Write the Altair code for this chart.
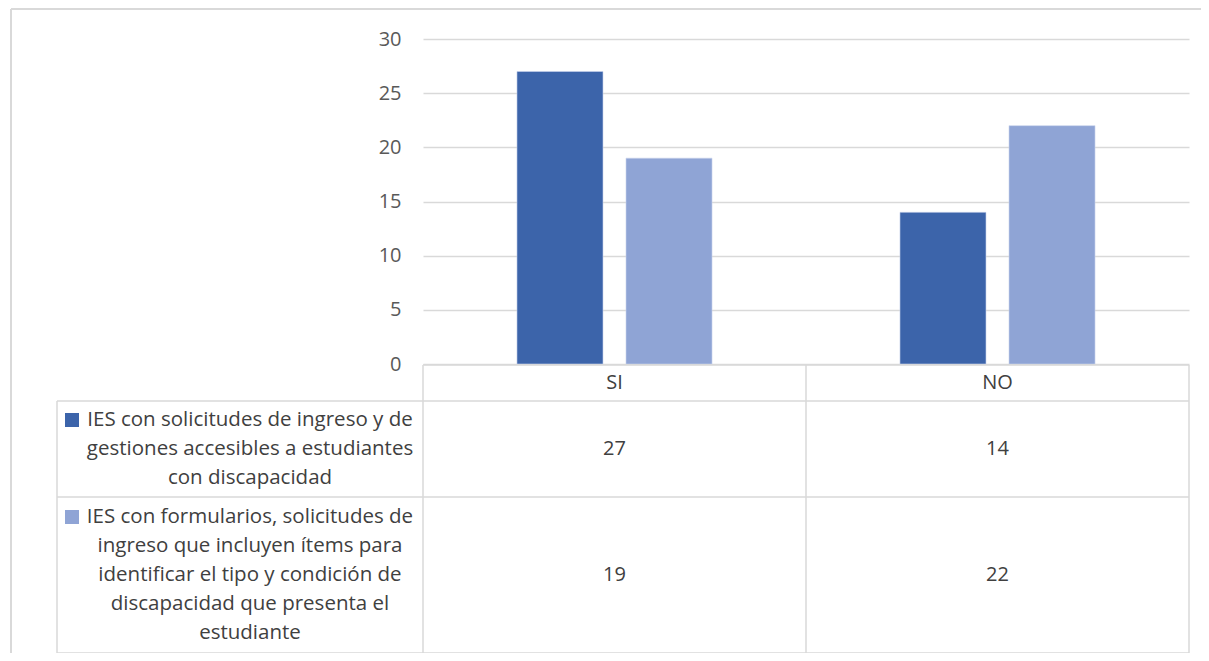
import altair as alt
import pandas as pd

categories = ["SI", "NO"]
series_names = [
    "IES con solicitudes de ingreso y de gestiones accesibles a estudiantes con discapacidad",
    "IES con formularios, solicitudes de ingreso que incluyen ítems para identificar el tipo y condición de discapacidad que presenta el estudiante",
]
series_lines = [
    ["IES con solicitudes de ingreso y de", "gestiones accesibles a estudiantes", "con discapacidad"],
    ["IES con formularios, solicitudes de", "ingreso que incluyen ítems para",
     "identificar el tipo y condición de", "discapacidad que presenta el", "estudiante"],
]
values_1 = [27, 14]
values_2 = [19, 22]
colors = ["#3C64AA", "#8FA4D5"]
y_ticks = [0, 5, 10, 15, 20, 25, 30]

FONT = "Open Sans"
GRID = "#D9D9D9"
TXT = "#404040"

rows = []
for s, vals in zip(series_names, [values_1, values_2]):
    for c, v in zip(categories, vals):
        rows.append({"cat": c, "series": s, "value": v})
df = pd.DataFrame(rows)

W, H = 766, 325

x_enc = alt.X("cat:N", sort=categories,
              scale=alt.Scale(domain=categories, paddingInner=0, paddingOuter=0),
              axis=None)

bars = alt.Chart(df).mark_bar(stroke="#C9D3EC", strokeWidth=0.6).encode(
    x=x_enc,
    xOffset=alt.XOffset("series:N", sort=series_names,
                        scale=alt.Scale(domain=series_names, paddingInner=0.211, paddingOuter=0.862)),
    y=alt.Y("value:Q", scale=alt.Scale(domain=[0, 30], nice=False),
            axis=alt.Axis(values=y_ticks, grid=True, gridColor=GRID, gridWidth=1.5,
                          domain=False, ticks=False, labelPadding=22, labelFontSize=20,
                          labelFont=FONT, labelColor="#595959", title=None)),
    color=alt.Color("series:N", scale=alt.Scale(domain=series_names, range=colors), legend=None),
)

def hrule(x1, x2, y, w=1.5, color=GRID):
    return alt.Chart(alt.Data(values=[{}])).mark_rule(color=color, strokeWidth=w).encode(
        x=alt.value(x1), x2=alt.value(x2), y=alt.value(y))

def vrule(x, y1, y2, w=1.5, color=GRID):
    return alt.Chart(alt.Data(values=[{}])).mark_rule(color=color, strokeWidth=w).encode(
        x=alt.value(x), y=alt.value(y1), y2=alt.value(y2))

table_lines = [
    hrule(0, W, 326),
    hrule(-366, W, 362),
    hrule(-366, W, 458),
    hrule(-366, W, 614),
    vrule(0, 326, 614),
    vrule(W / 2, 326, 614),
    vrule(W, 326, 614),
    vrule(-366, 362, 614),
]

frame = [
    hrule(-412, 800, -30, w=2),
    vrule(-412, -30, 640, w=2),
]

hdr_df = pd.DataFrame({"cat": categories})
header = alt.Chart(hdr_df).mark_text(font=FONT, fontSize=20, color=TXT, baseline="middle").encode(
    x=x_enc, y=alt.value(344), text="cat:N")

r1 = alt.Chart(pd.DataFrame({"cat": categories, "v": values_1})).mark_text(
    font=FONT, fontSize=20, color=TXT, baseline="middle").encode(
    x=x_enc, y=alt.value(410), text="v:Q")
r2 = alt.Chart(pd.DataFrame({"cat": categories, "v": values_2})).mark_text(
    font=FONT, fontSize=20, color=TXT, baseline="middle").encode(
    x=x_enc, y=alt.value(536), text="v:Q")

lab1 = alt.Chart(pd.DataFrame({"t": ["\n".join(series_lines[0])]})).mark_text(
    font=FONT, fontSize=20.5, color=TXT, baseline="middle", align="center",
    lineBreak="\n", lineHeight=29).encode(x=alt.value(-173), y=alt.value(381), text="t:N")
lab2 = alt.Chart(pd.DataFrame({"t": ["\n".join(series_lines[1])]})).mark_text(
    font=FONT, fontSize=20.5, color=TXT, baseline="middle", align="center",
    lineBreak="\n", lineHeight=29).encode(x=alt.value(-173), y=alt.value(478), text="t:N")

sq1 = alt.Chart(alt.Data(values=[{}])).mark_square(size=196, opacity=1, color=colors[0]).encode(
    x=alt.value(-351), y=alt.value(381))
sq2 = alt.Chart(alt.Data(values=[{}])).mark_square(size=196, opacity=1, color=colors[1]).encode(
    x=alt.value(-351), y=alt.value(478))

chart = alt.layer(
    *frame, bars, *table_lines, header, r1, r2, lab1, lab2, sq1, sq2
).properties(
    width=W, height=H,
    background="white",
    autosize=alt.AutoSizeParams(type="none"),
    padding={"left": 415, "top": 31, "right": 12, "bottom": 289},
).configure_view(stroke=None)

chart.save("out.html", embed_options={"renderer": "svg", "actions": False})
